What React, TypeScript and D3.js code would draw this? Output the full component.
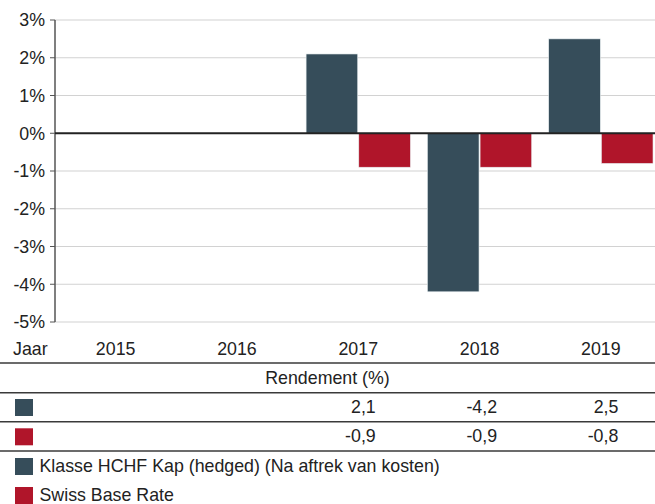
import React from "react";
import * as d3 from "d3";

const years = ["2015", "2016", "2017", "2018", "2019"];
const seriesNames = ["Klasse HCHF Kap (hedged) (Na aftrek van kosten)", "Swiss Base Rate"];
const fundValues: (number | null)[] = [null, null, 2.1, -4.2, 2.5];
const baseValues: (number | null)[] = [null, null, -0.9, -0.9, -0.8];
const yTicks = [3, 2, 1, 0, -1, -2, -3, -4, -5];
const colors = ["#364d5a", "#b0152a"];

const W = 655;
const H = 504;
const font = "'Liberation Sans', Arial, Helvetica, sans-serif";

export default function App() {
  const y = d3.scaleLinear().domain([-5, 3]).range([322, 20]);
  const x = d3.scaleBand<string>().domain(years).range([55, 661.5]).paddingInner(0.14).paddingOuter(0.07);
  const x1 = d3.scaleBand<number>().domain([0, 1]).range([0, x.bandwidth()]).paddingInner(0.02);
  const series = [fundValues, baseValues];
  const fmt = (v: number) => String(v).replace(".", ",");
  const center = (yr: string) => (x(yr) as number) + x.bandwidth() / 2;
  const fs = 17.8;

  return (
    <svg width={W} height={H} style={{ position: "absolute", left: 0, top: 0 }} fontFamily={font}>
      {yTicks.map((t) => (
        <g key={t}>
          {t !== 0 && <line x1={55} x2={W} y1={y(t)} y2={y(t)} stroke="#d2d2d2" strokeWidth={1.2} />}
          <line x1={50} x2={55} y1={y(t)} y2={y(t)} stroke="#555" strokeWidth={1} />
          <text x={45} y={y(t)} dy="0.36em" textAnchor="end" fontSize={fs} fill="#222">
            {t}%
          </text>
        </g>
      ))}
      {series.map((vals, si) =>
        vals.map((v, i) =>
          v === null ? null : (
            <rect
              key={`${si}-${i}`}
              x={(x(years[i]) as number) + (x1(si) as number)}
              width={x1.bandwidth()}
              y={y(Math.max(0, v))}
              height={Math.abs(y(v) - y(0))}
              fill={colors[si]}
              stroke="#e8eef0"
              strokeWidth={0.6}
            />
          )
        )
      )}
      <line x1={55} x2={55} y1={20} y2={322} stroke="#555" strokeWidth={1.5} />
      <line x1={55} x2={W} y1={y(0)} y2={y(0)} stroke="#222" strokeWidth={2.2} />

      <text x={13} y={355} fontSize={fs} fill="#222">Jaar</text>
      {years.map((yr) => (
        <text key={yr} x={center(yr)} y={355} textAnchor="middle" fontSize={fs} fill="#222">
          {yr}
        </text>
      ))}
      {[363, 392.7, 421.7, 451].map((ly) => (
        <line key={ly} x1={0} x2={W} y1={ly} y2={ly} stroke="#3a3a3a" strokeWidth={1.4} />
      ))}
      <text x={W / 2} y={384} textAnchor="middle" fontSize={fs} fill="#222">Rendement (%)</text>
      {series.map((vals, si) => (
        <g key={si}>
          <rect x={15} y={399 + si * 29.3} width={18} height={17} fill={colors[si]} />
          {vals.map((v, i) =>
            v === null ? null : (
              <text key={i} x={center(years[i]) + 17.5} y={413 + si * 29.3} textAnchor="end" fontSize={fs} fill="#222">
                {fmt(v)}
              </text>
            )
          )}
        </g>
      ))}
      {seriesNames.map((n, si) => (
        <g key={n}>
          <rect x={15} y={458 + si * 29} width={18} height={17} fill={colors[si]} />
          <text x={39.5} y={472 + si * 29} fontSize={fs} fill="#222">{n}</text>
        </g>
      ))}
    </svg>
  );
}
